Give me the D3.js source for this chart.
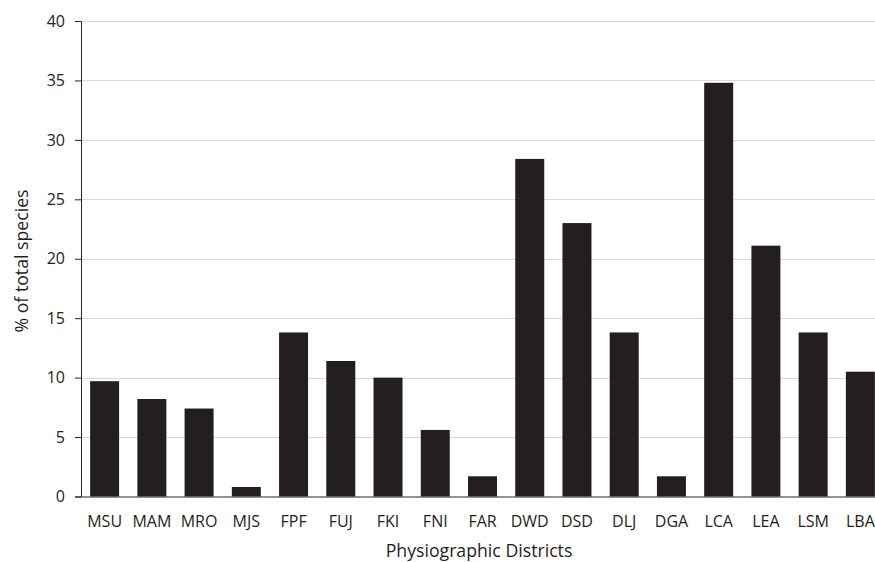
<!DOCTYPE html>
<html><head><meta charset="utf-8">
<script src="https://cdn.jsdelivr.net/npm/d3@7"></script>
<style>body{margin:0;background:#fff;}svg{display:block;}</style>
</head><body>
<svg id="c" width="875" height="562"></svg>
<script>
const categories = ["MSU","MAM","MRO","MJS","FPF","FUJ","FKI","FNI","FAR","DWD","DSD","DLJ","DGA","LCA","LEA","LSM","LBA"];
const values = [9.7,8.2,7.4,0.8,13.8,11.4,10.0,5.6,1.7,28.4,23.0,13.8,1.7,34.8,21.1,13.8,10.5];
const yTicks = [0,5,10,15,20,25,30,35,40];

(function () {
const svg = d3.select("#c");
const font = "Open Sans, Lato, sans-serif";
const mLeft = 81, mTop = 21, mBottom = 496.5, mRight = 884;
const x = d3.scaleBand().domain(categories).range([mLeft, mRight]).paddingInner(0.386).paddingOuter(0.193);
const y = d3.scaleLinear().domain([0, 40]).range([mBottom, mTop]);

// gridlines
svg.append("g").selectAll("line").data(yTicks.filter(d => d > 0)).join("line")
  .attr("x1", mLeft).attr("x2", 875)
  .attr("y1", d => Math.round(y(d)) + 0.5).attr("y2", d => Math.round(y(d)) + 0.5)
  .attr("stroke", "#d9d9d9").attr("stroke-width", 1);

// bars
svg.append("g").selectAll("rect").data(values).join("rect")
  .attr("x", (d, i) => x(categories[i]))
  .attr("width", x.bandwidth())
  .attr("y", d => y(d))
  .attr("height", d => y(0) - y(d))
  .attr("fill", "#231f20");

// y axis
const yAxis = d3.axisLeft(y).tickValues(yTicks).tickSize(6).tickPadding(10);
const gy = svg.append("g").attr("transform", `translate(${mLeft},0)`).call(yAxis);
gy.select(".domain").attr("stroke", "#262626");
gy.selectAll(".tick line").attr("stroke", "#262626");
gy.selectAll("text").attr("font-family", font).attr("font-size", 16).attr("fill", "#231f20");

// x axis
const xAxis = d3.axisBottom(x).tickSize(0).tickPadding(19);
const gx = svg.append("g").attr("transform", `translate(0,${mBottom})`).call(xAxis);
gx.select(".domain").attr("stroke", "#262626");
gx.selectAll("text").attr("font-family", font).attr("font-size", 16).attr("fill", "#231f20");

// titles
svg.append("text").attr("x", 479).attr("y", 557).attr("text-anchor", "middle")
  .attr("font-family", font).attr("font-size", 17.7).attr("fill", "#231f20").text("Physiographic Districts");
svg.append("text").attr("transform", "translate(28,261) rotate(-90)").attr("text-anchor", "middle")
  .attr("font-family", font).attr("font-size", 17.7).attr("fill", "#231f20").text("% of total species");
})();
</script>
</body></html>
